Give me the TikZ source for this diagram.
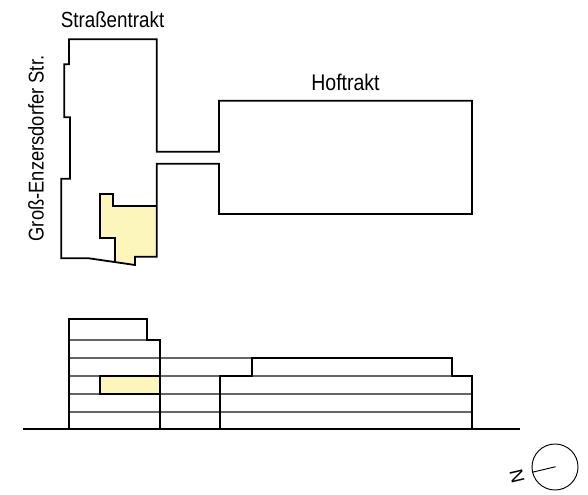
\documentclass[tikz,border=0pt]{standalone}
\usepackage{fontspec}
\setmainfont[FakeStretch=0.86]{Liberation Sans}
\usepackage{tikz}
\definecolor{flatyellow}{HTML}{FCF5BC}
\tikzset{
  wall/.style={line width=1.35pt, line join=miter},
  floor/.style={line width=0.8pt, black!60},
  label/.style={font=\fontsize{#1}{17pt}\selectfont, inner sep=0pt}
}

\begin{document}
\begin{tikzpicture}[x=0.75pt,y=-0.75pt]
    \useasboundingbox (0,0) rectangle (588,495);

    % draw flat in plan
    \fill[flatyellow] (99.7,194) -- (112.7,194) -- (112.7,206) -- (156.7,206) -- (156.7,256.7) -- (135,256.7) -- (135,265) -- (115,262.3) -- (115,238.3) -- (99.7,238.3) -- cycle;
    \draw[wall] (115,262.3) -- (115,238.3) -- (99.7,238.3) -- (99.7,194) -- (112.7,194) -- (112.7,206) -- (156.7,206);

    % draw plan outline
    \draw[wall] (69,39.3) -- (156.7,39.3) -- (156.7,151.7) -- (219,151.7) -- (219,100.7) -- (472,100.7) -- (472,214) -- (219,214) -- (219,163.7) -- (156.7,163.7) -- (156.7,256.7) -- (135,256.7) -- (135,265) -- (89,258.3) -- (61.3,258.3) -- (61.3,178.7) -- (70,178.7) -- (70,117.3) -- (64.3,117.3) -- (64.3,64.3) -- (69,64.3) -- cycle;

    % draw floor lines
    \draw[floor] (69,340) -- (147,340);
    \draw[floor] (69,358) -- (252.3,358);
    \draw[floor] (69,376) -- (100,376);
    \draw[floor] (160,376) -- (220,376);
    \draw[floor] (252.3,376) -- (452.3,376);
    \foreach \y in {394,412}
    \draw[floor] (69,\y) -- (472.3,\y);

    % draw flat in elevation
    \draw[wall, fill=flatyellow] (100,376) rectangle (160,394);

    % draw elevation outline
    \draw[wall] (69,428.7) -- (69,319) -- (146.7,319) -- (146.7,340) -- (160,340) -- (160,428.7);
    \draw[wall] (220,428.7) -- (220,376) -- (252.3,376) -- (252.3,358) -- (452.3,358) -- (452.3,376) -- (472.3,376) -- (472.3,428.7);
    \draw[wall] (23,428.7) -- (520,428.7);

    % draw labels
    \node[label=16.4pt] (strasse) at (112.5,20) {Straßentrakt};
    \node[label=17pt] (hof) at (345.5,82) {Hoftrakt};
    \node[label=16pt, rotate=90] (gasse) at (36,148.5) {Groß-Enzersdorfer Str.};

    % draw north sign
    \node[draw, circle, minimum size=34.5pt, inner sep=0pt, line width=0.7pt] (compass) at (555,467) {};
    \coordinate (needle) at (555.7,466.7);
    \draw[line width=0.7pt] (needle) -- (compass.193);
    \node[font=\fontsize{14pt}{14pt}\selectfont\addfontfeature{FakeStretch=1}, inner sep=0pt, rotate=103] (north) at (517,476) {N};
\end{tikzpicture}
\end{document}
